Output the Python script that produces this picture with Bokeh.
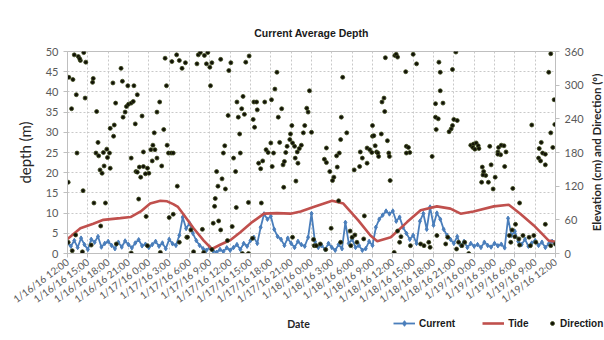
from bokeh.plotting import figure
from bokeh.layouts import column, row
from bokeh.models import (Range1d, LinearAxis, FixedTicker, Legend, LegendItem, Label)
from bokeh.embed import file_html
from bokeh.resources import INLINE

# Time axis: hours elapsed since 1/16/16 12:00, labelled every 3 hours
tick_hours = list(range(0, 73, 3))
tick_labels = [
    "1/16/16 12:00", "1/16/16 15:00", "1/16/16 18:00", "1/16/16 21:00",
    "1/17/16 0:00", "1/17/16 3:00", "1/17/16 6:00", "1/17/16 9:00",
    "1/17/16 12:00", "1/17/16 15:00", "1/17/16 18:00", "1/17/16 21:00",
    "1/18/16 0:00", "1/18/16 3:00", "1/18/16 6:00", "1/18/16 9:00",
    "1/18/16 12:00", "1/18/16 15:00", "1/18/16 18:00", "1/18/16 21:00",
    "1/19/16 0:00", "1/19/16 3:00", "1/19/16 6:00", "1/19/16 9:00",
    "1/19/16 12:00",
]

# Current, sampled every half hour (left axis)
current = [
    2.5, 1.8, 3.2, 1.5, 3.8, 2.2, 1.0, 3.5, 2.8, 4.2, 1.6, 2.5, 3.0,
    2.0, 1.2, 2.8, 1.6, 3.1, 2.2, 1.4, 2.6, 3.4, 1.9, 2.3, 1.5,
    2.2, 3.0, 1.8, 2.6, 1.2, 3.5, 2.4, 2.0,
    4.5, 9.0, 6.2, 7.5, 5.0, 3.2,
    2.0, 1.2, 0.8, 1.5, 0.6, 0.3, 1.0, 0.5, 1.4, 0.8,
    1.5, 2.2, 1.0, 2.5, 1.8, 3.2, 4.0, 2.5,
    6.5, 9.8, 8.5, 9.2, 6.0, 4.2,
    3.5, 2.0, 3.8, 2.5, 1.5, 3.0, 2.2, 1.8,
    4.0, 9.9, 3.0, 1.5,
    2.0, 1.0, 2.5, 1.5, 0.8, 2.2, 1.2,
    7.7, 2.5, 3.5,
    1.5, 2.0, 0.8, 1.2, 3.0, 2.0,
    6.5, 8.5, 9.5, 10.5, 9.8, 10.5, 8.0, 9.0, 6.5,
    5.0, 3.5, 4.5, 2.5,
    8.0, 9.9, 6.0, 11.5, 7.0, 10.0, 8.5, 6.0, 4.5,
    3.5, 2.5, 4.2, 2.0, 3.0, 1.5,
    2.5, 1.8, 2.2, 1.5, 2.8, 2.0, 1.6, 2.5, 1.9, 2.3, 1.4,
    8.7, 4.5, 5.5,
    3.0, 2.2, 3.5, 1.8, 2.6, 3.2, 2.0, 2.8, 1.5, 2.4, 3.0, 2.2,
]
current_hours = [i * 0.5 for i in range(len(current))]

# Tide elevation in cm (right axis)
tide_hours = [0, 1.9, 3.8, 5.3, 7.8, 9.3, 10.8, 12.2, 13.7, 14.7, 15.6, 16.3,
              17.1, 18.6, 20.1, 21.3, 22.6, 24.05, 25.5, 27.25, 29, 30.9, 32.9,
              34.4, 36.3, 39.05, 40.7, 42.9, 44.7, 45.7, 47.7, 50.1, 52.1, 54.5,
              56.5, 58, 59.9, 62.9, 65.1, 66.8, 68.8, 71, 72]
tide_cm = [26, 45, 53, 60, 63, 65, 75, 89, 94, 93, 88, 83,
           70, 45, 23, 8, 16, 24, 38, 56, 71, 72, 71,
           75, 83, 94, 89, 59, 32, 22, 29, 56, 77, 84,
           80, 71, 75, 84, 87, 71, 50, 23, 21]

# Current direction in degrees (right axis)
dir_hours = [
    1.0, 1.6, 1.9, 2.4, 2.7, 1.8, 0.2, 0.8, 1.3, 0.6, 2.6, 0.1, 2.3, 3.9, 5.6,
    3.8, 3.7, 6.7, 7.9, 8.1, 8.9, 9.8, 10.3, 7.1, 8.7, 9.0, 9.4, 9.7, 8.5, 8.2,
    4.3, 11.0, 10.0, 6.9, 6.3, 6.8, 4.5, 5.8, 4.2, 4.6, 5.3, 6.2, 5.9, 1.4, 5.4,
    4.8, 5.1, 6.3, 9.4, 10.1, 10.6, 11.2, 11.8, 12.0, 10.8, 10.3, 11.5, 12.3,
    12.6, 12.9, 13.2, 12.5, 13.9, 11.2, 12.8, 13.2, 13.6, 14.2, 14.7, 14.9,
    15.3, 15.6, 14.6, 14.4, 15.4, 16.1, 16.5, 16.9, 17.4, 16.2, 10.5, 11.6,
    15.0, 15.6, 4.9, 1.2, 0.1, 0.7, 2.2, 3.5, 9.4, 7.2, 16.5, 17.6, 13.7, 11.8,
    19.3, 19.6, 20.2, 20.7, 20.5, 21.0, 21.3, 19.1, 22.6, 24.1, 23.8, 26.3,
    26.8, 21.1, 30.9, 30.6, 35.7, 25.9, 25.0, 25.7, 27.5, 27.9, 29.1, 30.1,
    28.0, 31.6, 35.3, 35.5, 23.7, 25.2, 26.1, 27.4, 31.1, 27.6, 25.4, 33.1,
    35.0, 32.9, 34.8, 36.0, 30.0, 31.3, 32.8, 33.2, 33.5, 34.5, 34.2, 33.9,
    32.4, 32.2, 29.3, 29.6, 30.4, 25.5, 23.2, 23.0, 24.5, 28.8, 28.2, 28.5,
    30.2, 31.8, 32.0, 33.6, 34.0, 22.0, 24.8, 22.8, 22.2, 23.3, 33.7, 31.9,
    21.8, 21.7, 24.9, 26.7, 28.6, 22.3, 21.5, 19.9, 22.6, 24.3, 18.2, 17.7,
    23.6, 27.3, 21.3, 20.1, 18.6, 25.8, 26.7, 33.2, 36.4,
    46.9, 48.3, 48.5, 48.7, 51.0, 51.5, 49.9, 40.6, 54.8, 55.0, 46.7, 46.4,
    46.8, 40.4, 45.0, 54.3, 54.7, 54.4, 41.2, 45.0, 45.2, 46.3, 40.3, 47.2,
    45.4, 44.2, 44.6, 43.2, 45.6, 45.8, 44.9, 45.9, 47.4, 47.5, 43.5, 50.0,
    50.3, 50.5, 50.0, 38.2, 39.7, 40.1, 37.9, 38.2, 38.7, 39.8, 44.2, 43.1,
    42.3, 47.6, 39.3, 39.1, 53.8, 40.0, 43.8, 38.9, 36.3, 36.7, 37.3, 38.1,
    40.3, 41.7, 42.0, 42.4, 42.7, 43.7, 41.8, 48.2, 48.7, 49.2, 49.0, 50.6,
    52.1, 52.6, 53.3, 53.5, 54.5,
    57.3, 56.8, 71.3, 71.0, 71.8, 55.0, 54.3, 55.4, 57.0, 57.5, 56.8, 56.6,
    56.3, 68.5, 71.9, 71.3, 59.5, 59.9, 60.3, 60.6, 59.8, 60.1, 60.7, 62.3,
    63.6, 64.0, 64.4, 63.5, 64.7, 63.9, 63.5, 62.5, 61.2, 61.4, 61.7, 61.3,
    63.1, 64.5, 61.1, 62.1, 62.8, 65.7, 66.7, 69.9, 69.6, 70.1, 70.5, 69.5,
    69.8, 70.5, 71.6, 70.5, 66.1, 65.6, 66.0, 66.6, 67.2, 68.1, 68.8, 69.1,
    68.3, 66.7, 65.4, 56.1, 55.8, 57.7, 58.2, 57.4, 58.6, 71.3, 72.0, 59.2,
    65.2,
]
dir_deg = [
    354, 351, 344, 358, 341, 347, 314, 310, 283, 258, 277, 127, 112, 90, 90,
    312, 305, 304, 330, 307, 299, 299, 283, 268, 262, 266, 268, 271, 252, 243,
    253, 245, 231, 229, 223, 209, 198, 186, 179, 174, 180, 179, 171, 179, 156,
    149, 143, 152, 170, 146, 154, 155, 152, 143, 136, 145, 142, 185,
    193, 185, 170, 165, 156, 181, 215, 252, 270, 221, 193, 179,
    179, 179, 299, 348, 342, 354, 344, 330, 340, 120, 97, 66,
    64, 70, 49, 33, 20, 5, 3, 15, 1, 17, 20, 29, 2, 14,
    354, 358, 353, 358, 338, 332, 340, 338, 346, 340, 326, 341,
    352, 299, 323, 293, 290, 280, 270, 258, 270, 270, 270, 274,
    256, 258, 259, 252, 246, 243, 248, 239, 243, 225, 213, 228,
    228, 213, 215, 216, 197, 198, 203, 197, 191, 193, 187, 181,
    191, 180, 185, 180, 179, 179, 192, 179, 170, 165, 161, 151,
    155, 158, 164, 170, 161, 146, 146, 133, 120, 115, 129, 118,
    98, 84, 82, 91, 90, 58, 54, 43, 42, 48, 42, 29,
    23, 27, 7, 2, 3, 0, 0, 29, 14,
    349, 353, 355, 350, 355, 338, 324, 314, 341, 323, 277, 270,
    253, 243, 228, 243, 240, 221, 215, 209, 210, 213, 203, 201,
    192, 188, 185, 181, 181, 179, 180, 173, 179, 173, 170, 191,
    189, 180, 179, 188, 174, 179, 168, 162, 146, 154, 161, 155,
    149, 130, 136, 130, 173, 94, 67, 45, 25, 14, 17, 7,
    20, 40, 29, 33, 20, 26, 14, 2, 40, 30, 20, 14,
    17, 14, 20, 11, 32,
    359, 328, 356, 323, 274, 290, 267, 268, 239, 237, 228, 222,
    217, 229, 230, 215, 193, 195, 197, 192, 189, 186, 187, 191,
    189, 193, 192, 181, 181, 176, 177, 158, 154, 146, 139, 140,
    136, 155, 127, 127, 115, 116, 90, 198, 187, 179, 177, 170,
    165, 158, 189, 52, 52, 42, 30, 26, 32, 29, 32, 20,
    14, 15, 20, 29, 17, 20, 14, 8, 20, 14, 17, 0,
    32,
]

GRID = "#c9c9c9"
AXIS = "#bfbfbf"
TICK_TXT = "#595959"
BODY_FONT = "Lato"
HEAD_FONT = "Liberation Sans"
BLUE = "#4a7ebb"
RED = "#c0504d"
DOT_FILL = "#111108"
DOT_LINE = "#3d4a1c"

p = figure(width=586, height=316, output_backend="svg", toolbar_location=None,
           x_range=Range1d(0, 72), y_range=Range1d(0, 50),
           min_border_left=67, min_border_right=31,
           min_border_top=51, min_border_bottom=63,
           title="Current Average Depth")
p.extra_y_ranges = {"right": Range1d(0, 360)}

p.title.text_font = HEAD_FONT
p.title.text_font_size = "10.5px"
p.title.text_font_style = "bold"
p.title.text_color = "#1a1a1a"
p.title.align = "center"
p.title.offset = -9
p.title.standoff = 26

p.outline_line_color = AXIS
p.background_fill_color = "white"
p.border_fill_color = "white"

# grid
p.xgrid.ticker = FixedTicker(ticks=tick_hours)
p.ygrid.ticker = FixedTicker(ticks=list(range(0, 51, 5)))
for g in (p.xgrid, p.ygrid):
    g.grid_line_color = GRID
    g.grid_line_dash = "2 2"
    g.grid_line_width = 1

# bottom axis with rotated date labels
xa = p.xaxis[0]
xa.ticker = FixedTicker(ticks=tick_hours)
xa.major_label_overrides = {h: lab for h, lab in zip(tick_hours, tick_labels)}
xa.major_label_orientation = 0.64
xa.major_label_text_font = BODY_FONT
xa.major_label_text_font_size = "10px"
xa.major_label_text_color = TICK_TXT
xa.major_label_standoff = 3

# left axis
ya = p.yaxis[0]
ya.ticker = FixedTicker(ticks=list(range(0, 51, 5)))
ya.axis_label = "depth (m)"
ya.axis_label_text_font = BODY_FONT
ya.axis_label_text_font_size = "15px"
ya.axis_label_text_font_style = "normal"
ya.axis_label_text_color = "#262626"
ya.axis_label_standoff = 9
ya.major_label_text_font = BODY_FONT
ya.major_label_text_font_size = "11px"
ya.major_label_text_color = TICK_TXT

# right axis: ticks and numbers
ra = LinearAxis(y_range_name="right", ticker=FixedTicker(ticks=list(range(0, 361, 60))))
ra.major_label_text_font = BODY_FONT
ra.major_label_text_font_size = "11px"
ra.major_label_text_color = TICK_TXT
p.add_layout(ra, "right")

for ax in (xa, ya, ra):
    ax.axis_line_color = AXIS
    ax.major_tick_line_color = AXIS
    ax.major_tick_out = 4
    ax.major_tick_in = 0
    ax.minor_tick_line_color = None

# series
p.line(current_hours, current, line_color=BLUE, line_width=1.8)
p.scatter(current_hours, current, marker="diamond", size=4.5,
          fill_color=BLUE, line_color=BLUE)
p.line(tide_hours, tide_cm, y_range_name="right", line_color=RED, line_width=2.6)
p.scatter(dir_hours, dir_deg, y_range_name="right", marker="circle",
          size=4, fill_color=DOT_FILL, line_color=DOT_LINE, line_width=0.8)

# narrow column at the right edge carrying the right-hand axis title
# (a left-side axis title reads bottom to top)
side = figure(width=18, height=316, output_backend="svg", toolbar_location=None,
              x_range=Range1d(0, 1), y_range=Range1d(0, 1),
              x_axis_location=None, y_axis_location="left",
              min_border=0, min_border_top=51, min_border_bottom=63)
side.grid.visible = False
side.outline_line_color = None
side.border_fill_color = "white"
sa = side.yaxis[0]
sa.ticker = FixedTicker(ticks=[])
sa.axis_line_color = None
sa.major_tick_line_color = None
sa.minor_tick_line_color = None
sa.axis_label = "Elevation (cm) and Direction (°)"
sa.axis_label_text_font = BODY_FONT
sa.axis_label_text_font_size = "11.5px"
sa.axis_label_text_font_style = "bold"
sa.axis_label_text_color = "#262626"
sa.axis_label_standoff = 2

# strip under the chart: axis title and legend on one row
strip = figure(width=604, height=24, output_backend="svg", toolbar_location=None,
               x_range=Range1d(0, 604), y_range=Range1d(0, 24),
               x_axis_location=None, y_axis_location=None, min_border=0)
strip.grid.visible = False
strip.outline_line_color = None
strip.border_fill_color = "white"

# legend swatch renderers (their single point sits outside the visible strip)
off = [-100]
sw_cur = strip.line(off * 2, off * 2, line_color=BLUE, line_width=1.8)
sw_cur_pt = strip.scatter(off, off, marker="diamond", size=4.5,
                          fill_color=BLUE, line_color=BLUE)
sw_tide = strip.line(off * 2, off * 2, line_color=RED, line_width=2.6)
sw_dir = strip.scatter(off, off, marker="circle", size=4, fill_color=DOT_FILL,
                       line_color=DOT_LINE, line_width=0.8)

leg_kw = dict(orientation="horizontal", padding=0, margin=0, spacing=27,
              border_line_alpha=0, background_fill_alpha=0,
              label_text_font=HEAD_FONT, label_text_font_size="10px",
              label_text_font_style="bold", label_text_color="#1a1a1a",
              glyph_height=14, label_height=14)
leg1 = Legend(items=[LegendItem(label="Current", renderers=[sw_cur, sw_cur_pt]),
                     LegendItem(label="Tide", renderers=[sw_tide])],
              location=(393, 10), glyph_width=22, label_standoff=4, **leg_kw)
leg2 = Legend(items=[LegendItem(label="Direction", renderers=[sw_dir])],
              location=(547, 10), glyph_width=10, label_standoff=3, **leg_kw)
strip.add_layout(leg1, "center")
strip.add_layout(leg2, "center")

strip.add_layout(Label(x=298, y=17, text="Date", text_align="center",
                       text_baseline="middle", text_font=BODY_FONT,
                       text_font_size="10.5px", text_font_style="bold",
                       text_color="#262626"))

page = column(row(p, side, spacing=0), row(strip), spacing=0)
open("out.html", "w").write(file_html(page, INLINE))
